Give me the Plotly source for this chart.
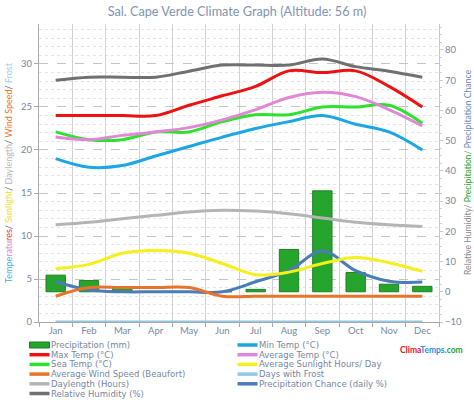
import plotly.graph_objects as go

months = ["Jan", "Feb", "Mar", "Apr", "May", "Jun", "Jul", "Aug", "Sep", "Oct", "Nov", "Dec"]

precipitation = [5.5, 3.7, 1.5, 0, 0, 0, 0.8, 14, 33.4, 6.4, 2.5, 1.8]
min_temp = [19, 18, 18.2, 19.3, 20.4, 21.5, 22.5, 23.3, 24, 23, 22.1, 20]
max_temp = [24, 24, 24, 24, 25.2, 26.3, 27.4, 29.2, 29, 29.2, 27.4, 25]
avg_temp = [21.5, 21.2, 21.7, 22.1, 22.6, 23.5, 24.7, 26.1, 26.7, 26.2, 24.7, 22.8]
sea_temp = [22.1, 21.2, 21.2, 22.1, 22.1, 23.3, 24.1, 24.1, 25.0, 25.0, 25.2, 23.1]
sunlight = [6.2, 6.7, 8.0, 8.3, 8.0, 6.8, 5.5, 5.8, 6.8, 7.5, 6.9, 5.9]
wind_speed = [3, 4, 4, 4, 4, 3, 3, 3, 3, 3, 3, 3]
frost_days = [0, 0, 0, 0, 0, 0, 0, 0, 0, 0, 0, 0]
daylength = [11.3, 11.6, 12.0, 12.4, 12.8, 13.0, 12.9, 12.6, 12.1, 11.6, 11.3, 11.1]
precip_chance = [3.3, 0.6, 0, 0, 0, 0, 3.3, 7, 13.5, 7, 3.5, 3.2]
humidity = [70, 71, 71, 71, 73, 75, 75, 75, 77, 74.5, 73, 71]

legend_names = [
    "Precipitation (mm)", "Min Temp (\u00b0C)",
    "Max Temp (\u00b0C)", "Average Temp (\u00b0C)",
    "Sea Temp (\u00b0C)", "Average Sunlight Hours/ Day",
    "Average Wind Speed (Beaufort)", "Days with Frost",
    "Daylength (Hours)", "Precipitation Chance (daily %)",
    "Relative Humidity (%)",
]

C_PRECIP = "#25a52c"
C_MIN = "#1ba6e4"
C_MAX = "#ee1111"
C_AVG = "#e287d6"
C_SEA = "#2de22d"
C_SUN = "#f5ef1c"
C_WIND = "#e8732a"
C_FROST = "#90c8e6"
C_DAY = "#b4b4b4"
C_CHANCE = "#4a7cb8"
C_HUM = "#707070"
legend_colors = [C_PRECIP, C_MIN, C_MAX, C_AVG, C_SEA, C_SUN, C_WIND, C_FROST, C_DAY, C_CHANCE, C_HUM]

W, H = 474, 400
ML, MR, MT, MB = 39, 35, 24, 78
FONT = "Lato"
LFONT = "DejaVu Sans"
TXT = "#7787a2"


def px_x(px):
    return (px - ML) / (W - ML - MR)


def px_y(py):
    return (H - MB - py) / (H - MB - MT)


fig = go.Figure()

# right-scale series (base axis 'y', drawn first so bars are underneath)
fig.add_trace(go.Bar(x=months, y=precipitation, yaxis="y", width=0.58,
                     marker=dict(color=C_PRECIP, line=dict(color="#1c8024", width=1)),
                     name=legend_names[0], showlegend=False))
fig.add_trace(go.Scatter(x=months, y=humidity, yaxis="y", mode="lines",
                         line=dict(color=C_HUM, width=3, shape="spline"),
                         name=legend_names[10], showlegend=False))
fig.add_trace(go.Scatter(x=months, y=precip_chance, yaxis="y", mode="lines",
                         line=dict(color=C_CHANCE, width=3, shape="spline"),
                         name=legend_names[9], showlegend=False))

# left-scale series
left_series = [
    (frost_days, C_FROST, legend_names[7]),
    (daylength, C_DAY, legend_names[8]),
    (wind_speed, C_WIND, legend_names[6]),
    (sunlight, C_SUN, legend_names[5]),
    (min_temp, C_MIN, legend_names[1]),
    (sea_temp, C_SEA, legend_names[4]),
    (avg_temp, C_AVG, legend_names[3]),
    (max_temp, C_MAX, legend_names[2]),
]
for vals, col, nm in left_series:
    fig.add_trace(go.Scatter(x=months, y=vals, yaxis="y2", mode="lines",
                             line=dict(color=col, width=3, shape="spline"),
                             name=nm, showlegend=False))

# manual compact legend
row_y = [345, 354.7, 364.4, 374.1, 383.8, 393.5]
col_x = [29.5, 237.5]
shapes = []
annotations = []
for i, (nm, col) in enumerate(zip(legend_names, legend_colors)):
    r, c = divmod(i, 2)
    x0 = col_x[c]
    yy = row_y[r]
    if i == 0:
        shapes.append(dict(type="rect", xref="paper", yref="paper",
                           x0=px_x(x0), x1=px_x(x0 + 20), y0=px_y(yy - 3), y1=px_y(yy + 3),
                           fillcolor=C_PRECIP, line=dict(color="#1c8024", width=1)))
    else:
        shapes.append(dict(type="line", xref="paper", yref="paper",
                           x0=px_x(x0), x1=px_x(x0 + 20), y0=px_y(yy), y1=px_y(yy),
                           line=dict(color=col, width=3.5)))
    annotations.append(dict(text=nm, xref="paper", yref="paper", x=px_x(x0 + 20.5), y=px_y(yy),
                            xanchor="left", yanchor="middle", showarrow=False, borderpad=0,
                            font=dict(family=LFONT, size=8.5, color=TXT)))

# axis titles
left_title = ("<span style='color:#3db0e4'>Tempe</span><span style='color:#e287d6'>ratu</span>"
              "<span style='color:#ee3333'>res</span><span style='color:#555'>/ </span>"
              "<span style='color:#f0e020'>Sunlight</span><span style='color:#555'>/ </span>"
              "<span style='color:#b8b8b8'>Daylength</span><span style='color:#555'>/ </span>"
              "<span style='color:#e8732a'>Wind Speed</span><span style='color:#555'>/ </span>"
              "<span style='color:#9ccbe8'>Frost</span>")
right_title = ("<span style='color:#8a8a8a'>Relative Humidity/ </span>"
               "<span style='color:#25a52c'>Precipitation</span>"
               "<span style='color:#8a8a8a'>/ </span>"
               "<span style='color:#6a88b8'>Precipitation Chance</span>")
annotations.append(dict(text=left_title, xref="paper", yref="paper", x=0, y=0.5,
                        xshift=-31, textangle=-90, showarrow=False,
                        xanchor="center", yanchor="middle",
                        font=dict(family=FONT, size=9, color="#555")))
annotations.append(dict(text=right_title, xref="paper", yref="paper", x=1, y=0.5,
                        xshift=29, textangle=-90, showarrow=False,
                        xanchor="center", yanchor="middle",
                        font=dict(family=FONT, size=8.6, color="#8a8a8a")))
# logo
annotations.append(dict(text="<b><span style='color:#e5102a'>Clima</span><span style='color:#2a8fe0'>Temps</span>"
                             "<span style='color:#23a23a'>.com</span></b>",
                        xref="paper", yref="paper", x=px_x(431), y=px_y(349.5),
                        xanchor="center", yanchor="middle", showarrow=False,
                        font=dict(family=FONT, size=8.5)))

fig.update_layout(
    width=W, height=H,
    margin=dict(l=ML, r=MR, t=MT, b=MB),
    paper_bgcolor="white", plot_bgcolor="white",
    showlegend=False,
    title=dict(text="Sal. Cape Verde Climate Graph (Altitude: 56 m)", x=0.5, xref="container",
               y=1 - 12 / H, yref="container", xanchor="center", yanchor="middle",
               font=dict(family=FONT, size=12.7, color="#8393b0")),
    font=dict(family=FONT, color=TXT),
    bargap=0.42,
    xaxis=dict(type="category", tickson="boundaries", showgrid=True, gridcolor="#d2d2d2", gridwidth=1,
               showline=True, linecolor="#a8a8a8", ticks="outside", ticklen=4, tickcolor="#a8a8a8",
               tickfont=dict(family=FONT, size=9.5, color=TXT), mirror=False, zeroline=False),
    yaxis=dict(side="right", range=[-10, 88.6], tickmode="linear", tick0=-10, dtick=10,
               showgrid=False, zeroline=False, showline=True, linecolor="#c8c8c8",
               ticks="outside", ticklen=3, tickcolor="#c8c8c8",
               tickfont=dict(family=FONT, size=9.5, color=TXT),
               minor=dict(dtick=2.5, ticks="outside", ticklen=2, tickcolor="#d0d0d0")),
    yaxis2=dict(side="left", overlaying="y", range=[0, 34.65], tickmode="linear", tick0=0, dtick=5,
                showgrid=True, gridcolor="#c4c4c4", griddash="dash", gridwidth=1,
                zeroline=False, showline=True, linecolor="#a8a8a8",
                ticks="outside", ticklen=4, tickcolor="#a8a8a8",
                tickfont=dict(family=FONT, size=9.5, color=TXT),
                minor=dict(dtick=1, showgrid=True, gridcolor="#e4e4e4", griddash="dot", gridwidth=1)),
    shapes=shapes,
    annotations=annotations,
)

fig.write_html("out.html",
               config={"displayModeBar": False},
               post_script="document.body.style.margin='0';document.body.style.padding='0';"
                           "document.documentElement.style.overflow='hidden';")
